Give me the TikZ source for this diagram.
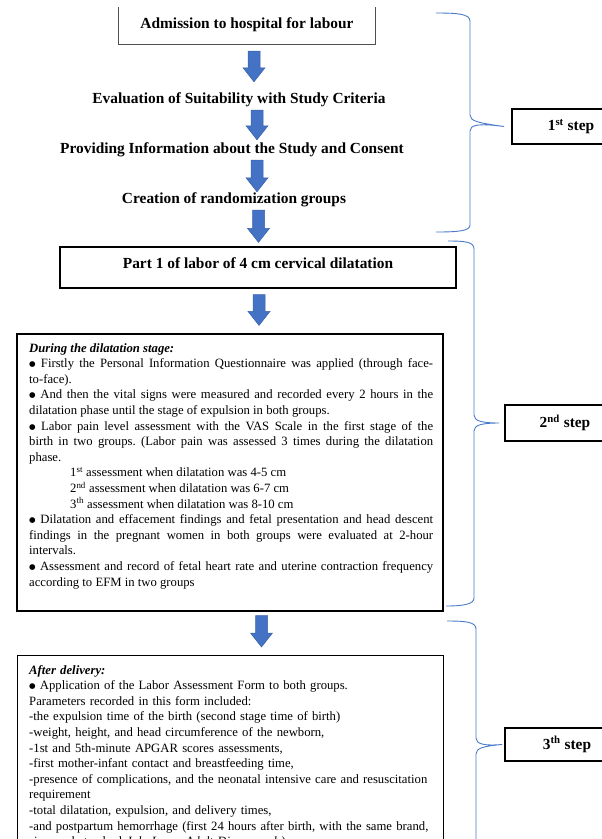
\documentclass[tikz,border=0pt]{standalone}
\usepackage{fontspec}
\setmainfont{Liberation Serif}
\newfontfamily\bulletfont{DejaVu Sans}
\usetikzlibrary{calc}
\definecolor{arrowblue}{HTML}{4472C4}
\definecolor{arrowedge}{HTML}{3A62A8}
\definecolor{bracecol}{HTML}{4A7BCB}
\definecolor{boxgray}{HTML}{505050}
\newcommand{\blt}{\raisebox{0.9pt}{\bulletfont\fontsize{7.5}{9}\selectfont ●}\ }
\begin{document}
\frenchspacing
\begin{tikzpicture}[x=1pt,y=-1pt,
  ttl/.style={font=\fontsize{15.4}{18}\selectfont\bfseries, inner sep=0pt},
  flat/.style={ttl, text height=10pt, text depth=3pt},
  stepbox/.style={ttl, draw, line width=1.8pt},
  bodytxt/.style={font=\fontsize{12.7}{15.6}\selectfont, inner sep=0pt},
  brc/.style={draw=bracecol, line width=0.9pt},
  barrow/.style={fill=arrowblue, draw=arrowedge, line width=0.5pt,
    to path={let \p1=(\tikztostart), \p2=(\tikztotarget) in
      (\x1-6pt,\y1) -- (\x1+6pt,\y1) -- (\x1+6pt,\y2+14pt) -- (\x1+11pt,\y2+14pt)
      -- (\x1,\y2) -- (\x1-11pt,\y2+14pt) -- (\x1-6pt,\y2+14pt) -- cycle}}
]
\useasboundingbox (0,0) rectangle (602,839);

% axes of the block arrows
\coordinate (ax1) at (254,0);
\coordinate (ax2) at (257,0);
\coordinate (ax3) at (257,0);
\coordinate (ax4) at (258.5,0);
\coordinate (ax5) at (259,0);
\coordinate (ax6) at (261.5,0);

% step 1
\node[ttl, minimum width=256pt, text height=21.5pt, text depth=15.5pt] (adm) at (247,25.5) {Admission to hospital for labour};
\draw[boxgray, line width=0.9pt] (adm.north west) -- (adm.south west) -- (adm.south east) -- (adm.north east);
\node[flat, anchor=base] (eval) at (239,103) {Evaluation of Suitability with Study Criteria};
\node[flat, anchor=base] (prov) at (232,153) {Providing Information about the Study and Consent};
\node[flat, anchor=base] (crea) at (234,203) {Creation of randomization groups};

% step 2
\node[ttl, draw, line width=1.2pt, minimum width=396pt, text height=21pt, text depth=20pt] (part) at (258,267.5) {Part 1 of labor of 4 cm cervical dilatation};
\node[draw, line width=1.1pt, minimum width=426pt, minimum height=277pt, inner sep=0pt] (dil) at (230,472.5) {};
\node[bodytxt, text width=404pt, align=justify, anchor=base west] (diltext) at (29,352) {%
\parindent=0pt\hyphenpenalty=10000\frenchspacing
\textbf{\textit{During the dilatation stage:}}\par
\blt Firstly the Personal Information Questionnaire was applied (through face-\linebreak to-face).\par
\blt And then the vital signs were measured and recorded every 2 hours in the\linebreak dilatation phase until the stage of expulsion in both groups.\par
\blt Labor pain level assessment with the VAS Scale in the first stage of the\linebreak birth in two groups. (Labor pain was assessed 3 times during the dilatation\linebreak phase.\par
\hspace*{41pt}1\textsuperscript{st} assessment when dilatation was 4-5 cm\par
\hspace*{41pt}2\textsuperscript{nd} assessment when dilatation was 6-7 cm\par
\hspace*{41pt}3\textsuperscript{th} assessment when dilatation was 8-10 cm\par
\blt Dilatation and effacement findings and fetal presentation and head descent\linebreak findings in the pregnant women in both groups were evaluated at 2-hour\linebreak intervals.\par
\blt Assessment and record of fetal heart rate and uterine contraction frequency\linebreak according to EFM in two groups};

% step 3
\node[draw, line width=1pt, minimum width=426pt, minimum height=225pt, inner sep=0pt, anchor=north west] (after) at (17,655) {};
\node[bodytxt, text width=414pt, align=left, anchor=base west] (aftertext) at (29,674) {%
\frenchspacing
\textbf{\textit{After delivery:}}\\
\blt Application of the Labor Assessment Form to both groups.\\
Parameters recorded in this form included:\\
-the expulsion time of the birth (second stage time of birth)\\
-weight, height, and head circumference of the newborn,\\
-1st and 5th-minute APGAR scores assessments,\\
-first mother-infant contact and breastfeeding time,\\
-presence of complications, and the neonatal intensive care and resuscitation\\
requirement\\
-total dilatation, expulsion, and delivery times,\\
-and postpartum hemorrhage (first 24 hours after birth, with the same brand,\\
size, and standard \textit{Joly Large Adult Diaper pads}).};

% block arrows
\path[barrow] ($(adm.south -| ax1)+(0,7)$) to ($(eval.north -| ax1)+(0,-11)$);
\path[barrow] ($(eval.south -| ax2)+(0,4)$) to ($(prov.north -| ax2)+(0,-3)$);
\path[barrow] ($(prov.south -| ax3)+(0,4)$) to ($(crea.north -| ax3)+(0,-1)$);
\path[barrow] ($(crea.south -| ax4)+(0,4)$) to ($(part.north -| ax4)+(0,-4)$);
\path[barrow] ($(part.south -| ax5)+(0,6)$) to ($(dil.north -| ax5)+(0,-8)$);
\path[barrow] ($(dil.south -| ax6)+(0,4)$) to ($(after.north -| ax6)+(0,-8)$);

% step labels
\node[stepbox, minimum width=118pt, minimum height=35pt] (s1) at (571,126.5) {1\textsuperscript{st} step};
\node[stepbox, minimum width=120pt, minimum height=36pt] (s2) at (565,423) {2\textsuperscript{nd} step};
\node[stepbox, minimum width=124pt, minimum height=33pt] (s3) at (567,744.5) {3\textsuperscript{th} step};

% braces
\draw[brc] (436,13) .. controls (458,13) and (470,14) .. (470,21) -- (470,115)
  .. controls (470,121) and (478,123) .. ($(s1.west)+(-7,0)$)
  .. controls (478,123) and (470,125) .. (470,131) -- (470,225)
  .. controls (470,231) and (458,232) .. (436,232);
\draw[brc] (448,241) .. controls (466,241) and (474,242) .. (474,249) -- (474,415)
  .. controls (474,421) and (482,423) .. ($(s2.west)+(-5,0)$)
  .. controls (482,423) and (474,425) .. (474,431) -- (474,598)
  .. controls (474,604) and (464,606) .. (446,606);
\draw[brc] (447,621) .. controls (466,621) and (476,622) .. (476,629) -- (476,738)
  .. controls (476,744) and (484,746) .. ($(s3.west)+(-2,0)$)
  .. controls (484,746) and (476,748) .. (476,754) -- (476,863)
  .. controls (476,869) and (466,871) .. (447,871);
\end{tikzpicture}
\end{document}
